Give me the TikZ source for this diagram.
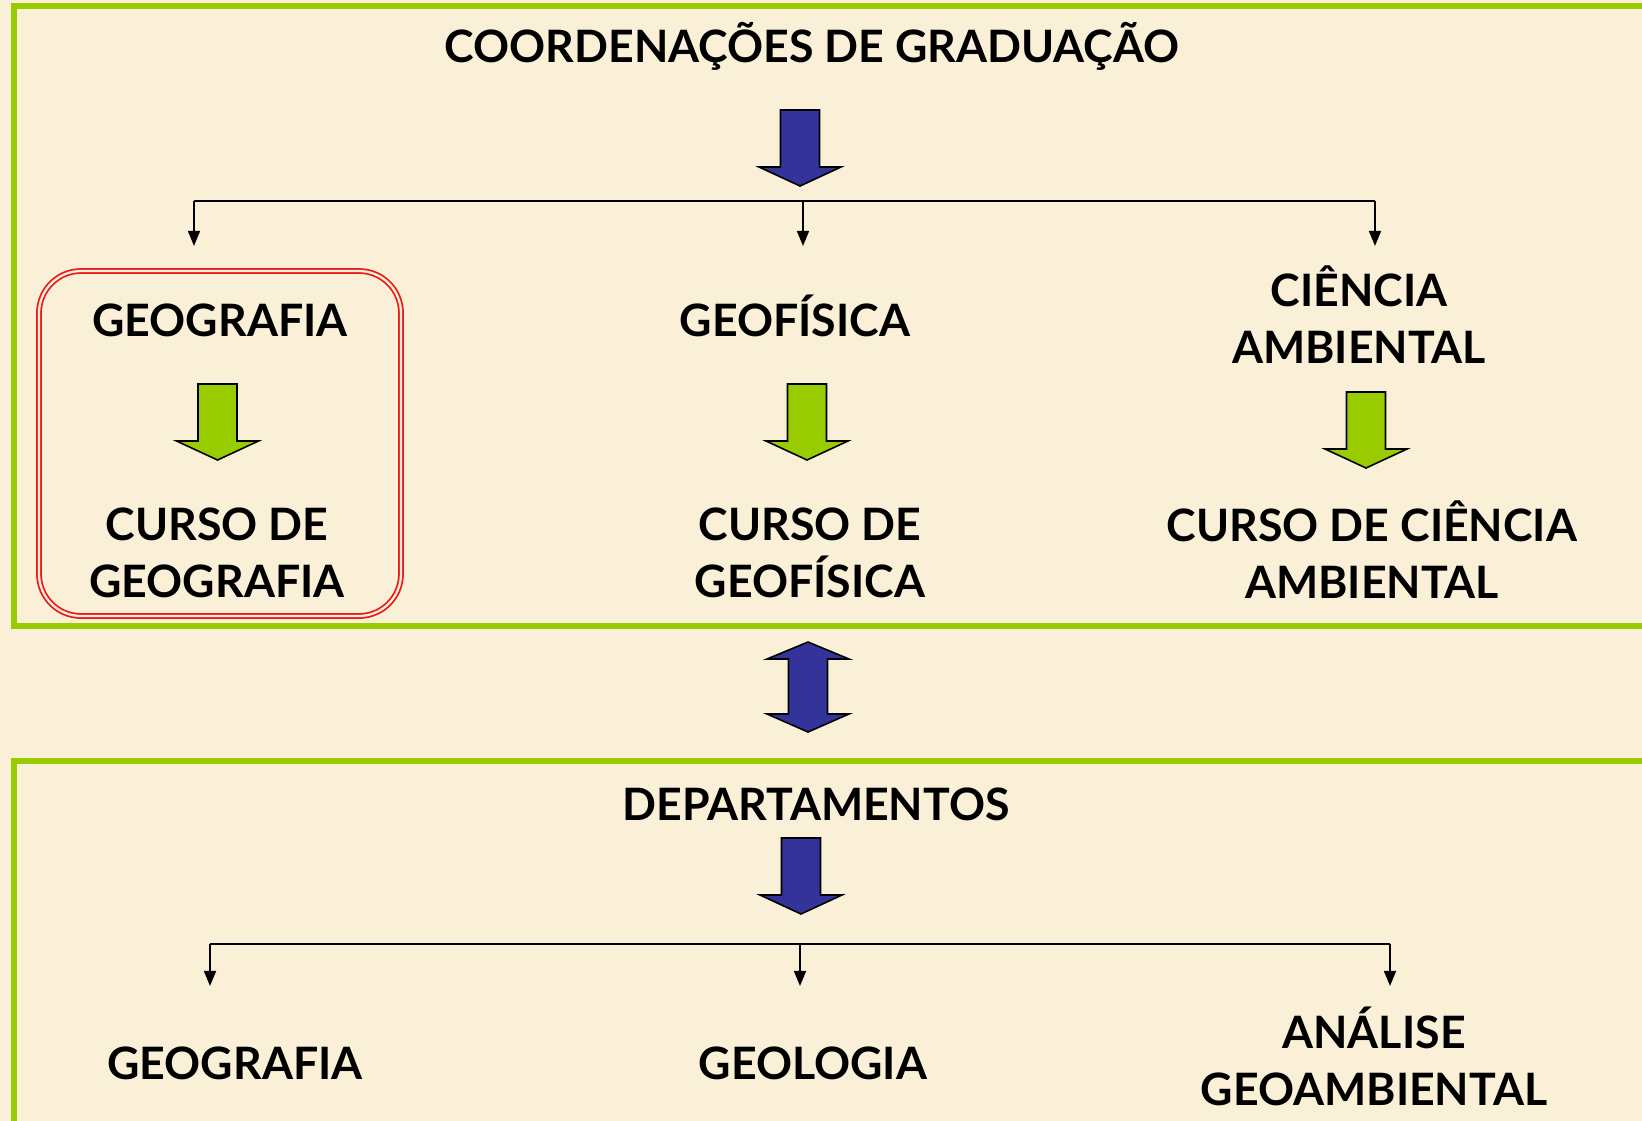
\documentclass[tikz,border=0pt]{standalone}
\usepackage{fontspec}
\setmainfont{Lato}
\usetikzlibrary{arrows.meta}
\definecolor{SlideBg}{RGB}{250,240,215}
\definecolor{SlideGreen}{RGB}{153,204,0}
\definecolor{SlideBlue}{RGB}{51,51,153}
\definecolor{SlideRed}{RGB}{235,25,25}

\begin{document}
\begin{tikzpicture}[x=0.01cm,y=-0.01cm,
  lbl/.style={font=\fontsize{12.7}{16.2}\selectfont\bfseries,align=center,inner sep=0pt,anchor=base},
  frame/.style={SlideGreen,line width=1.7pt},
  redbox/.style={draw=SlideRed,double=SlideBg,double distance=0.65pt,line width=0.5pt,rounded corners=0.42cm},
  tip/.style={-{Triangle[width=3.4pt,length=4.3pt]},line width=0.55pt},
  pics/blockdown/.style={code={\draw[line width=0.45pt,fill=#1] (-19.5,0) -- (19.5,0) -- (19.5,57) -- (41,57) -- (0,76) -- (-41,57) -- (-19.5,57) -- cycle;}},
  pics/blockboth/.style={code={\draw[line width=0.45pt,fill=#1] (0,0) -- (41,17) -- (19.5,17) -- (19.5,72) -- (41,72) -- (0,90) -- (-41,72) -- (-19.5,72) -- (-19.5,17) -- (-41,17) -- cycle;}}]
\useasboundingbox[fill=SlideBg] (0,0) rectangle (1642,1121);
% green frames, open to the right
\draw[frame] (14,6) rectangle (1670,626);
\draw[frame] (14,761) rectangle (1670,1150);

% upper part (two-line labels sit on their last line)
\node[lbl] (coord) at (812,62) {COORDENAÇÕES DE GRADUAÇÃO};
\pic at (800,110) {blockdown=SlideBlue};
\coordinate (bus1) at (803,201);
\foreach \n/\x in {b1/194,b2/803,b3/1375} {
   \coordinate (\n) at (\x,246);
}
\draw[line width=0.55pt] (b1 |- bus1) -- (b3 |- bus1);
\foreach \n in {b1,b2,b3} {
   \draw[tip] (\n |- bus1) -- (\n);
}
\node[lbl] (geo) at (220,336) {GEOGRAFIA};
\node[lbl] (geof) at (795,336) {GEOFÍSICA};
\node[lbl] (cien) at (1359,363) {CIÊNCIA\\AMBIENTAL};
\foreach \x/\y in {217.5/384,807/384,1366/392} {
   \pic at (\x,\y) {blockdown=SlideGreen};
}
\node[lbl] (cgeo) at (217,597) {CURSO DE\\GEOGRAFIA};
\node[lbl] (cgeof) at (810,597) {CURSO DE\\GEOFÍSICA};
\node[lbl] (ccien) at (1372,598) {CURSO DE CIÊNCIA\\AMBIENTAL};
\draw[redbox] (39,271) rectangle (401,616);

% link between the two parts
\pic at (808,642) {blockboth=SlideBlue};

% lower part
\node[lbl] (dep) at (816,820) {DEPARTAMENTOS};
\pic at (801,838) {blockdown=SlideBlue};
\coordinate (bus2) at (800,944);
\foreach \n/\x in {d1/210,d2/800,d3/1390} {
   \coordinate (\n) at (\x,986);
}
\draw[line width=0.55pt] (d1 |- bus2) -- (d3 |- bus2);
\foreach \n in {d1,d2,d3} {
   \draw[tip] (\n |- bus2) -- (\n);
}
\node[lbl] (dgeo) at (235,1079) {GEOGRAFIA};
\node[lbl] (dgeol) at (813,1079) {GEOLOGIA};
\node[lbl] (dana) at (1374,1105) {ANÁLISE\\GEOAMBIENTAL};
\end{tikzpicture}
\end{document}
